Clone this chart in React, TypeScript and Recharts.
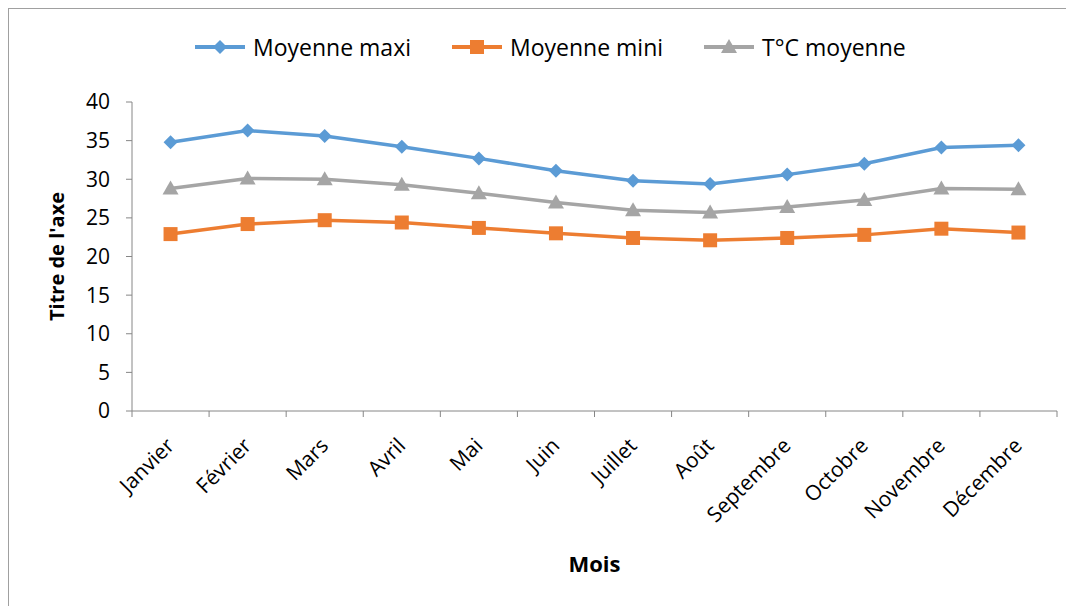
import { LineChart, Line, XAxis, YAxis } from "recharts";

const mois = [
  "Janvier", "Février", "Mars", "Avril", "Mai", "Juin",
  "Juillet", "Août", "Septembre", "Octobre", "Novembre", "Décembre",
];
const moyenneMaxi = [34.8, 36.3, 35.6, 34.2, 32.7, 31.1, 29.8, 29.4, 30.6, 32.0, 34.1, 34.4];
const moyenneMini = [22.9, 24.2, 24.7, 24.4, 23.7, 23.0, 22.4, 22.1, 22.4, 22.8, 23.6, 23.1];
const tMoyenne = [28.8, 30.1, 30.0, 29.3, 28.2, 27.0, 26.0, 25.7, 26.4, 27.3, 28.8, 28.7];
const yTicks = [0, 5, 10, 15, 20, 25, 30, 35, 40];

const data = mois.map((m, i) => ({
  mois: m,
  maxi: moyenneMaxi[i],
  mini: moyenneMini[i],
  moy: tMoyenne[i],
}));

const BLUE = "#5B9BD5";
const ORANGE = "#ED7D31";
const GRAY = "#A5A5A5";
const AXIS = "#868686";
const FONT = "'Open Sans', sans-serif";

const W = 1058;
const H = 590;
const M = { top: 94, right: 9, left: 0, bottom: 17 };
const YW = 124;
const PLOT_W = W - M.left - M.right - YW;
const STEP = PLOT_W / mois.length;

function marker(kind: string, cx: number, cy: number, color: string) {
  if (kind === "diamond")
    return <polygon points={`${cx},${cy - 7} ${cx + 7},${cy} ${cx},${cy + 7} ${cx - 7},${cy}`} fill={color} />;
  if (kind === "square")
    return <rect x={cx - 7} y={cy - 7} width={14} height={14} fill={color} />;
  return <polygon points={`${cx},${cy - 8} ${cx + 8},${cy + 6} ${cx - 8},${cy + 6}`} fill={color} />;
}

const dot = (kind: string, color: string) => (p: any) => (
  <g key={`${kind}-${p.index}`}>{marker(kind, p.cx, p.cy, color)}</g>
);

function MonthTick(props: any) {
  const { x, y, payload, index } = props;
  const tx = x + 5;
  const ty = y + 28;
  return (
    <g>
      <line x1={x - STEP / 2} y1={y - 8} x2={x - STEP / 2} y2={y - 2} stroke={AXIS} />
      {index === mois.length - 1 && (
        <line x1={x + STEP / 2} y1={y - 8} x2={x + STEP / 2} y2={y - 2} stroke={AXIS} />
      )}
      <text
        x={tx}
        y={ty}
        transform={`rotate(-45, ${tx}, ${ty})`}
        textAnchor="end"
        fontSize={21}
        fontFamily={FONT}
        fill="#000"
      >
        {payload.value}
      </text>
    </g>
  );
}

const legendItems = [
  { label: "Moyenne maxi", color: BLUE, kind: "diamond" },
  { label: "Moyenne mini", color: ORANGE, kind: "square" },
  { label: "T°C moyenne", color: GRAY, kind: "triangle" },
];

export default function App() {
  return (
    <div
      style={{
        position: "relative",
        width: W + 12,
        height: H + 12,
        marginTop: -1,
        marginLeft: -1,
        borderTop: "2px solid #a0a0a0",
        borderLeft: "2px solid #a0a0a0",
        background: "#fff",
      }}
    >
      <style>{"html,body{overflow:hidden}"}</style>
      <div
        style={{
          position: "absolute",
          top: 23,
          left: 186,
          display: "flex",
          gap: 41,
          fontFamily: FONT,
          fontSize: 23,
          lineHeight: "30px",
          zIndex: 1,
        }}
      >
        {legendItems.map((it) => (
          <div key={it.label} style={{ display: "flex", alignItems: "center" }}>
            <svg width={50} height={20} style={{ marginRight: 8 }}>
              <line x1={0} y1={10} x2={50} y2={10} stroke={it.color} strokeWidth={4} />
              {marker(it.kind, 25, 10, it.color)}
            </svg>
            <span>{it.label}</span>
          </div>
        ))}
      </div>
      <LineChart width={W} height={H} data={data} margin={M} style={{ marginTop: -1, marginLeft: -1 }}>
        <XAxis
          dataKey="mois"
          stroke={AXIS}
          tickLine={false}
          interval={0}
          height={170}
          padding={{ left: STEP / 2, right: STEP / 2 }}
          tick={<MonthTick />}
          label={{
            value: "Mois",
            position: "insideBottom",
            offset: 9,
            fontSize: 22,
            fontWeight: 700,
            fontFamily: FONT,
            fill: "#000",
          }}
        />
        <YAxis
          width={YW}
          domain={[0, 40]}
          ticks={yTicks}
          stroke={AXIS}
          tickSize={6}
          tickMargin={16}
          tick={{ fill: "#000", fontSize: 21, fontFamily: FONT }}
          label={{
            value: "Titre de l'axe",
            angle: -90,
            position: "insideLeft",
            offset: 49,
            style: { textAnchor: "middle" },
            fontSize: 20,
            fontWeight: 700,
            fontFamily: FONT,
            fill: "#000",
          }}
        />
        <Line dataKey="maxi" stroke={BLUE} strokeWidth={3.5} dot={dot("diamond", BLUE)} isAnimationActive={false} />
        <Line dataKey="mini" stroke={ORANGE} strokeWidth={3.5} dot={dot("square", ORANGE)} isAnimationActive={false} />
        <Line dataKey="moy" stroke={GRAY} strokeWidth={3.5} dot={dot("triangle", GRAY)} isAnimationActive={false} />
      </LineChart>
    </div>
  );
}
